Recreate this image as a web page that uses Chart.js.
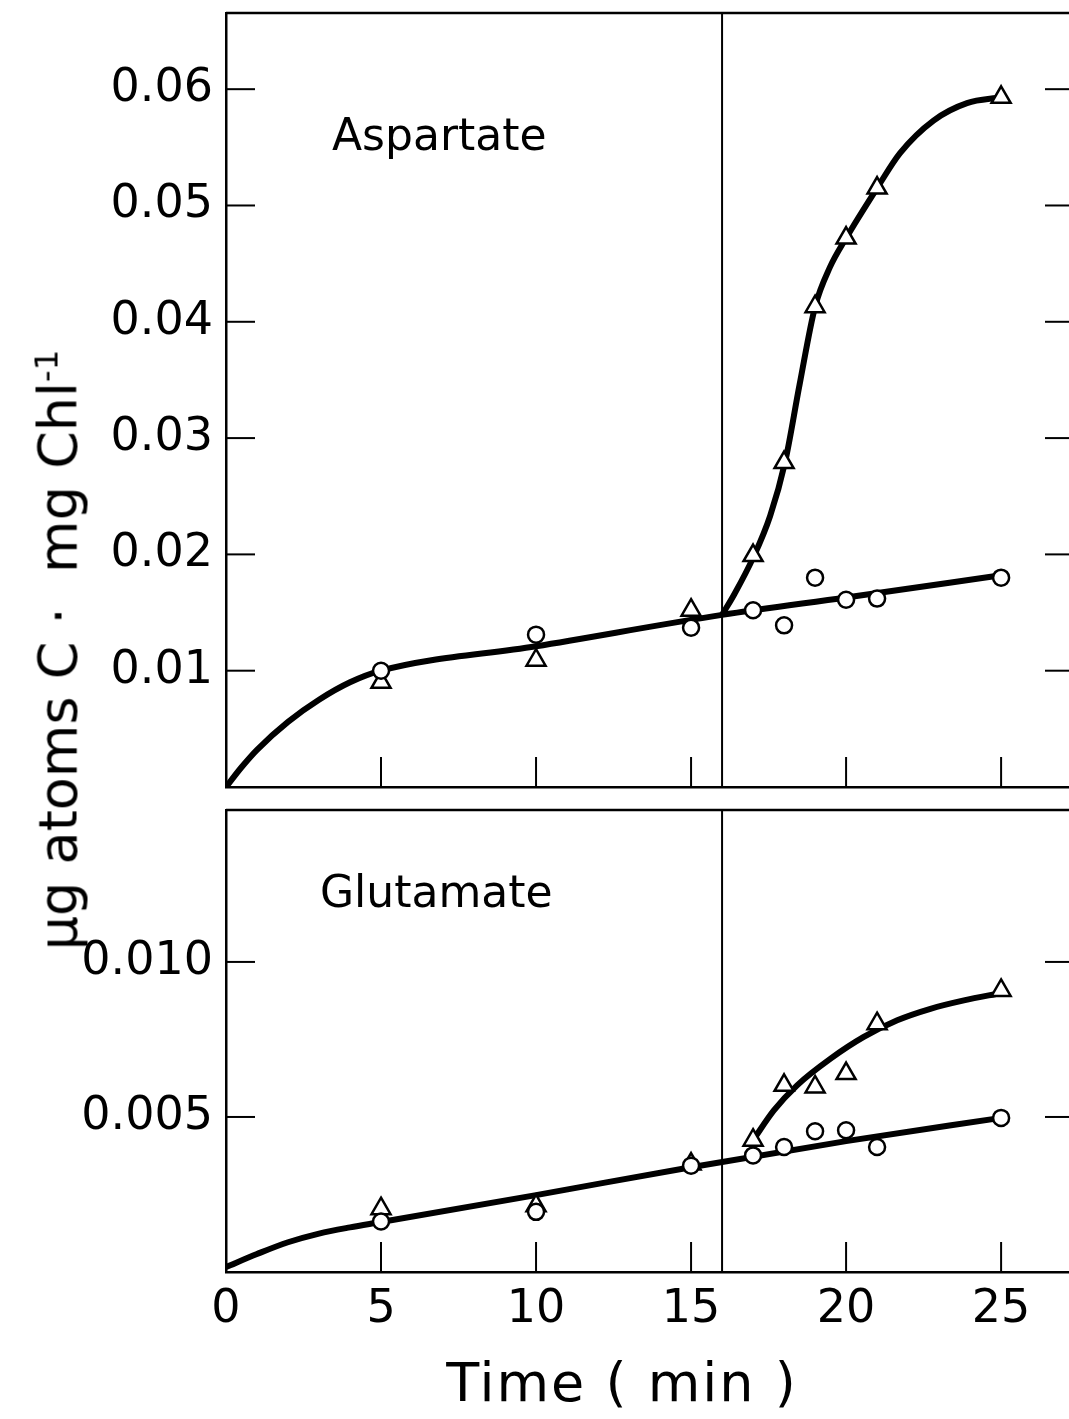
<!DOCTYPE html>
<html>
<head>
<meta charset="utf-8">
<script src="https://cdn.jsdelivr.net/npm/chart.js@4.4.1/dist/chart.umd.min.js"></script>
<style>
  html, body { margin: 0; padding: 0; background: #fff; }
  body { width: 1069px; height: 1419px; position: relative; overflow: hidden; font-family: 'DejaVu Sans', sans-serif; color: #000; }
  #topChart { position: absolute; left: 0; top: 0; }
  #botChart { position: absolute; left: 0; top: 800px; }
  .ytitle { position: absolute; left: 58px; top: 650px; transform: translate(-50%, -50%) rotate(-90deg);
            white-space: nowrap; font-size: 54px; }
  .ytitle sup { font-size: 0.6em; }
  .xtitle { position: absolute; left: 622px; top: 1382px; transform: translate(-50%, -50%);
            white-space: nowrap; font-size: 54px; letter-spacing: 2px; }
</style>
</head>
<body>
<canvas id="topChart" width="1069" height="800"></canvas>
<canvas id="botChart" width="1069" height="619"></canvas>
<div class="ytitle">μg atoms C ·&nbsp; mg Chl<sup>-1</sup></div>
<div class="xtitle">Time ( min )</div>
<script>
// --- données ---
const timeMin = [5, 10, 15, 17, 18, 19, 20, 21, 25];

// Aspartate
const aspCircles   = [0.0100, 0.0131, 0.0137, 0.0152, 0.0139, 0.0180, 0.0161, 0.0162, 0.0180];
const aspTriangles = [0.0090, 0.0109, 0.0152, 0.0199, 0.0279, 0.0413, 0.0472, 0.0515, 0.0593];
const aspBaseX = [0, 0.5, 1, 2, 3, 4, 5, 10, 16, 20, 25];
const aspBaseY = [0, 0.0017, 0.0032, 0.0056, 0.0075, 0.0090, 0.0100, 0.0121, 0.0148, 0.0163, 0.0182];
const aspRiseX = [16, 16.4, 17, 17.55, 18.03, 18.5, 19, 19.48, 20, 21, 21.74, 22.82, 23.9, 25];
const aspRiseY = [0.0148, 0.0166, 0.0197, 0.0233, 0.0279, 0.0346, 0.0413, 0.0447, 0.0472, 0.0515, 0.0545, 0.0573, 0.0588, 0.0593];

// Glutamate
const gluCircles   = [0.00163, 0.00194, 0.00343, 0.00376, 0.00403, 0.00454, 0.00457, 0.00403, 0.00497];
const gluTriangles = [0.00204, 0.00214, 0.00348, 0.00425, 0.00602, 0.00597, 0.00640, 0.00801, 0.00908];
const gluBaseX = [0, 1, 2, 3, 4, 5, 10, 15, 20, 25];
const gluBaseY = [0.00016, 0.00058, 0.00096, 0.00124, 0.00144, 0.00161, 0.00248, 0.00338, 0.00422, 0.00497];
const gluRiseX = [17, 17.67, 18.42, 19.5, 20.57, 21.65, 22.72, 23.8, 25];
const gluRiseY = [0.00425, 0.00521, 0.00602, 0.00688, 0.00758, 0.00812, 0.00849, 0.00876, 0.00900];

// --- axes ---
const xTickValues = [0, 5, 10, 15, 20, 25];
const aspYTicks = [0.01, 0.02, 0.03, 0.04, 0.05, 0.06];
const gluYTicks = [0.005, 0.010];
const lightOnMin = 16;   // trait vertical
const xMax = 27.19;

const pts = (xs, ys) => xs.map((x, i) => ({ x, y: ys[i] }));
const tickFont = { family: "'DejaVu Sans', sans-serif", size: 46 };

// cadre, graduations intérieures, trait vertical, étiquette
const framePlugin = {
    id: 'frame',
    beforeDatasetsDraw(chart, args, opts) {
        const { ctx, chartArea: a, scales: { x, y } } = chart;
        const seg = (x1, y1, x2, y2) => { ctx.beginPath(); ctx.moveTo(x1, y1); ctx.lineTo(x2, y2); ctx.stroke(); };
        ctx.save();
        ctx.strokeStyle = '#000';
        ctx.lineWidth = 2.5;
        seg(a.left, a.top, a.right, a.top);
        ctx.lineWidth = 2;
        opts.yTicks.forEach(v => {
            const py = y.getPixelForValue(v);
            seg(a.left, py, a.left + 29, py);
            seg(a.right - 24, py, a.right, py);
        });
        xTickValues.filter(v => v > 0).forEach(v => {
            const px = x.getPixelForValue(v);
            seg(px, a.bottom, px, a.bottom - 30);
        });
        const lx = x.getPixelForValue(lightOnMin);
        seg(lx, a.top, lx, a.bottom);
        ctx.fillStyle = '#000';
        ctx.font = "44px 'DejaVu Sans', sans-serif";
        ctx.textBaseline = 'alphabetic';
        ctx.fillText(opts.label, a.left + opts.dx, a.top + opts.dy);
        ctx.restore();
    }
};

function buildDatasets(circles, triangles, baseX, baseY, riseX, riseY) {
    const fit = { showLine: true, pointRadius: 0, borderColor: '#000', borderWidth: 6, cubicInterpolationMode: 'monotone' };
    return [
        { data: pts(timeMin, circles), pointStyle: 'circle', pointRadius: 8, pointBorderWidth: 2.5,
          pointBackgroundColor: '#fff', pointBorderColor: '#000' },
        { data: pts(timeMin, triangles), pointStyle: 'triangle', pointRadius: 11, pointBorderWidth: 2.5,
          pointBackgroundColor: '#fff', pointBorderColor: '#000' },
        { data: pts(baseX, baseY), ...fit },
        { data: pts(riseX, riseY), ...fit }
    ];
}

function makePanel(id, cfg) {
    return new Chart(document.getElementById(id), {
        type: 'scatter',
        data: { datasets: cfg.datasets },
        plugins: [framePlugin],
        options: {
            responsive: false,
            animation: false,
            layout: { autoPadding: false, padding: { top: cfg.top, left: 0, right: 0, bottom: 0 } },
            plugins: {
                legend: { display: false },
                tooltip: { enabled: false },
                frame: { yTicks: cfg.yTicks, label: cfg.label, dx: cfg.dx, dy: cfg.dy }
            },
            scales: {
                x: {
                    type: 'linear', min: 0, max: xMax,
                    grid: { display: false, drawTicks: false },
                    border: { display: true, color: '#000', width: 2.5 },
                    ticks: { display: cfg.showX, font: tickFont, color: '#000', padding: 10, autoSkip: false,
                             maxRotation: 0, callback: v => String(v) },
                    afterBuildTicks: s => { s.ticks = xTickValues.map(v => ({ value: v })); },
                    afterFit: s => {
                        s.height = cfg.xHeight;
                        s.paddingLeft = 0; s.paddingRight = 0; s.paddingTop = 0; s.paddingBottom = 0;
                    }
                },
                y: {
                    type: 'linear', min: 0, max: cfg.yMax,
                    grid: { display: false, drawTicks: false },
                    border: { display: true, color: '#000', width: 2.5 },
                    ticks: { font: tickFont, color: '#000', padding: 13, callback: v => v.toFixed(cfg.decimals) },
                    afterBuildTicks: s => { s.ticks = cfg.yTicks.map(v => ({ value: v })); },
                    afterFit: s => {
                        s.width = 226;
                        s.paddingLeft = 0; s.paddingRight = 0; s.paddingTop = 0; s.paddingBottom = 0;
                    }
                }
            }
        }
    });
}

makePanel('topChart', {
    datasets: buildDatasets(aspCircles, aspTriangles, aspBaseX, aspBaseY, aspRiseX, aspRiseY),
    top: 13, xHeight: 13, yMax: 0.06655, yTicks: aspYTicks, decimals: 2,
    showX: false, label: 'Aspartate', dx: 106, dy: 137
});

makePanel('botChart', {
    datasets: buildDatasets(gluCircles, gluTriangles, gluBaseX, gluBaseY, gluRiseX, gluRiseY),
    top: 10, xHeight: 147, yMax: 0.0149, yTicks: gluYTicks, decimals: 3,
    showX: true, label: 'Glutamate', dx: 94, dy: 97
});
</script>
</body>
</html>
